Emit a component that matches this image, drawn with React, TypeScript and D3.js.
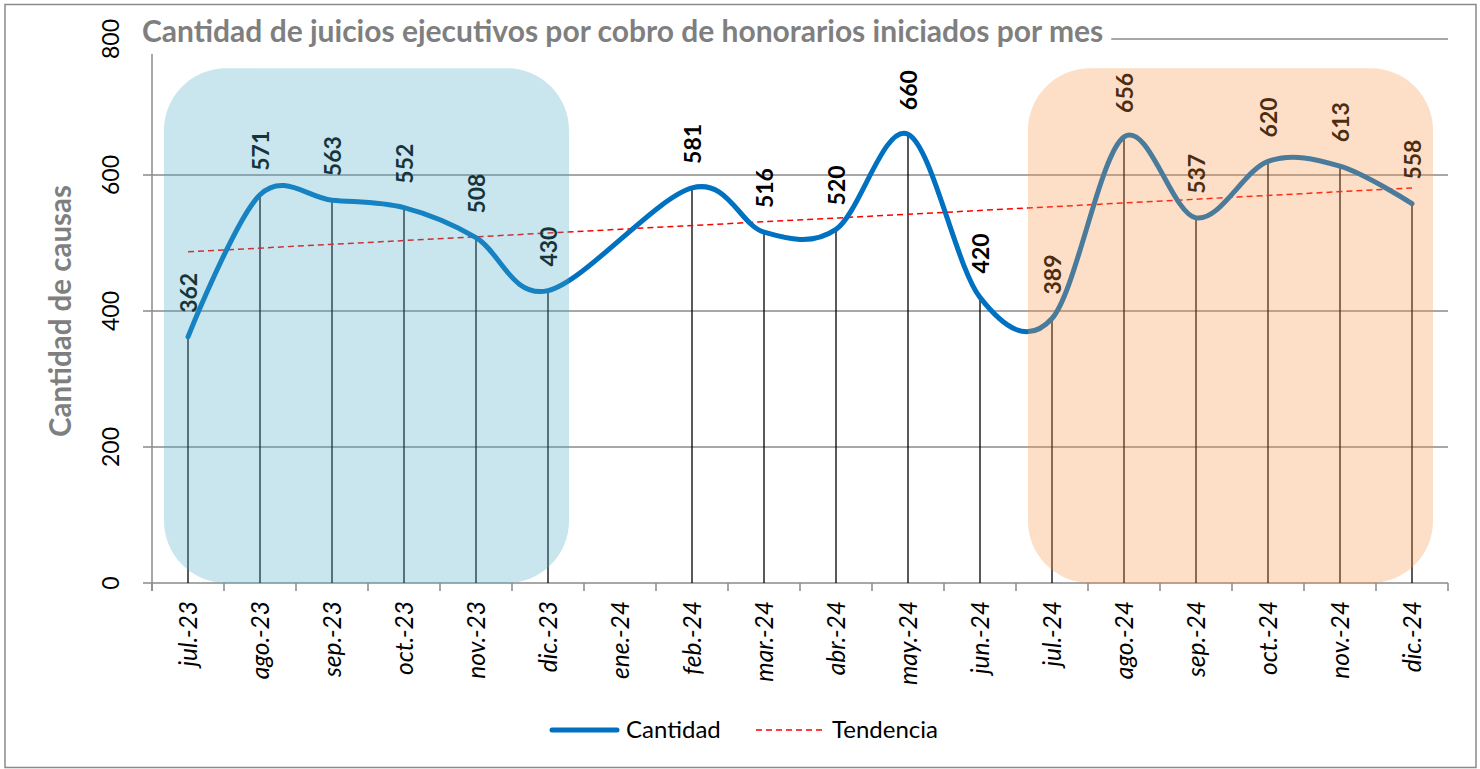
import React, { useEffect, useRef } from "react";
import * as d3 from "d3";

// chart values
const categories = [
  "jul.-23", "ago.-23", "sep.-23", "oct.-23", "nov.-23", "dic.-23",
  "ene.-24", "feb.-24", "mar.-24", "abr.-24", "may.-24", "jun.-24",
  "jul.-24", "ago.-24", "sep.-24", "oct.-24", "nov.-24", "dic.-24",
];
const cantidad: (number | null)[] = [
  362, 571, 563, 552, 508, 430, null, 581, 516, 520, 660, 420,
  389, 656, 537, 620, 613, 558,
];
// trend line read at first and last month
const tendencia = [487, 581];
const yTicks = [0, 200, 400, 600, 800];
const legendLabels = ["Cantidad", "Tendencia"];
const highlights = [
  { from: "jul.-23", to: "dic.-23", color: "#4BACC6" },
  { from: "jul.-24", to: "dic.-24", color: "#F79646" },
];
const highlightTop = 757;

const title = "Cantidad de juicios ejecutivos por cobro de honorarios iniciados por mes";
const yTitle = "Cantidad de causas";

const W = 1480;
const H = 769;
const FONT = "Lato, 'Open Sans', sans-serif";
const BLUE = "#0070C0";
const GRAY = "#8a8a8a";

const App = () => {
  const ref = useRef<SVGSVGElement>(null);

  useEffect(() => {
    const svg = d3.select(ref.current);
    svg.selectAll("*").remove();

    const x = d3.scaleBand().domain(categories).range([152, 1448]);
    const y = d3.scaleLinear().domain([0, 800]).range([583, 39]);
    const cx = (c: string) => (x(c) as number) + x.bandwidth() / 2;

    // outer frame
    svg
      .append("rect")
      .attr("x", 5)
      .attr("y", 4.5)
      .attr("width", 1471)
      .attr("height", 763)
      .attr("fill", "#fff")
      .attr("stroke", GRAY)
      .attr("stroke-width", 1.5);

    // gridlines + y ticks
    svg
      .append("g")
      .selectAll("line")
      .data(yTicks)
      .join("line")
      .attr("x1", 143)
      .attr("x2", 1448)
      .attr("y1", (d) => y(d))
      .attr("y2", (d) => y(d))
      .attr("stroke", GRAY)
      .attr("stroke-width", 1.5);

    svg
      .append("g")
      .selectAll("text")
      .data(yTicks)
      .join("text")
      .attr("transform", (d) => `translate(119,${y(d)}) rotate(-90)`)
      .attr("text-anchor", "middle")
      .attr("font-family", FONT)
      .attr("font-size", 23)
      .attr("fill", "#000")
      .text((d) => d);

    // y axis line
    svg
      .append("line")
      .attr("x1", 152)
      .attr("x2", 152)
      .attr("y1", y(800))
      .attr("y2", 591)
      .attr("stroke", GRAY)
      .attr("stroke-width", 1.5);

    // x ticks at band edges
    const edges = categories.map((c) => x(c) as number).concat([1448]);
    svg
      .append("g")
      .selectAll("line")
      .data(edges)
      .join("line")
      .attr("x1", (d) => d)
      .attr("x2", (d) => d)
      .attr("y1", y(0))
      .attr("y2", 591)
      .attr("stroke", GRAY)
      .attr("stroke-width", 1.5);

    svg
      .append("g")
      .selectAll("text")
      .data(categories)
      .join("text")
      .attr("transform", (d) => `translate(${cx(d) + 9},601) rotate(-90)`)
      .attr("text-anchor", "end")
      .attr("font-family", FONT)
      .attr("font-style", "italic")
      .attr("font-size", 24.5)
      .attr("fill", "#000")
      .text((d) => d);

    const points = categories
      .map((c, i) => ({ c, v: cantidad[i] }))
      .filter((p) => p.v !== null) as { c: string; v: number }[];

    // drop lines
    svg
      .append("g")
      .selectAll("line")
      .data(points)
      .join("line")
      .attr("x1", (d) => cx(d.c))
      .attr("x2", (d) => cx(d.c))
      .attr("y1", (d) => y(d.v))
      .attr("y2", y(0))
      .attr("stroke", "#000")
      .attr("stroke-width", 1.3);

    // trend
    const first = categories[0];
    const last = categories[categories.length - 1];
    svg
      .append("line")
      .attr("x1", cx(first))
      .attr("y1", y(tendencia[0]))
      .attr("x2", cx(last))
      .attr("y2", y(tendencia[1]))
      .attr("stroke", "#ff0000")
      .attr("stroke-width", 1.5)
      .attr("stroke-dasharray", "6,4");

    // smoothed series
    const line = d3
      .line<{ c: string; v: number }>()
      .x((d) => cx(d.c))
      .y((d) => y(d.v))
      .curve(d3.curveCardinal.tension(0));
    svg
      .append("path")
      .datum(points)
      .attr("d", line)
      .attr("fill", "none")
      .attr("stroke", BLUE)
      .attr("stroke-width", 5)
      .attr("stroke-linecap", "round")
      .attr("stroke-linejoin", "round");

    // data labels
    svg
      .append("g")
      .selectAll("text")
      .data(points)
      .join("text")
      .attr("transform", (d) => `translate(${cx(d.c) + 9},${y(d.v) - 24}) rotate(-90)`)
      .attr("text-anchor", "start")
      .attr("font-family", FONT)
      .attr("font-weight", "bold")
      .attr("font-size", 23)
      .attr("fill", "#000")
      .text((d) => d.v);

    // translucent highlight boxes
    svg
      .append("g")
      .selectAll("rect")
      .data(highlights)
      .join("rect")
      .attr("x", (d) => (x(d.from) as number) + 12)
      .attr("y", y(highlightTop))
      .attr("width", (d) => (x(d.to) as number) + x.bandwidth() - 15 - ((x(d.from) as number) + 12))
      .attr("height", y(0) - y(highlightTop))
      .attr("rx", 62)
      .attr("fill", (d) => d.color)
      .attr("fill-opacity", 0.3);

    // title with white box covering the top gridline
    const tg = svg.append("g");
    const bg = tg.append("rect").attr("fill", "#fff");
    const tt = tg
      .append("text")
      .attr("x", 142)
      .attr("y", 42)
      .attr("font-family", FONT)
      .attr("font-weight", "bold")
      .attr("font-size", 30)
      .attr("fill", "#7f7f7f")
      .text(title);
    const tw = (tt.node() as SVGTextElement).getComputedTextLength();
    bg.attr("x", 138).attr("y", 10).attr("width", tw + 12).attr("height", 44);

    // y title
    svg
      .append("text")
      .attr("transform", "translate(71,311) rotate(-90)")
      .attr("text-anchor", "middle")
      .attr("font-family", FONT)
      .attr("font-weight", "bold")
      .attr("font-size", 29.5)
      .attr("fill", "#7f7f7f")
      .text(yTitle);

    // legend
    const lg = svg.append("g");
    lg.append("line")
      .attr("x1", 552)
      .attr("x2", 617)
      .attr("y1", 730)
      .attr("y2", 730)
      .attr("stroke", BLUE)
      .attr("stroke-width", 5)
      .attr("stroke-linecap", "round");
    lg.append("text")
      .attr("x", 626)
      .attr("y", 738)
      .attr("font-family", FONT)
      .attr("font-size", 24)
      .attr("fill", "#000")
      .text(legendLabels[0]);
    lg.append("line")
      .attr("x1", 756)
      .attr("x2", 825)
      .attr("y1", 730)
      .attr("y2", 730)
      .attr("stroke", "#ff0000")
      .attr("stroke-width", 1.5)
      .attr("stroke-dasharray", "6,4");
    lg.append("text")
      .attr("x", 832)
      .attr("y", 738)
      .attr("font-family", FONT)
      .attr("font-size", 24)
      .attr("fill", "#000")
      .text(legendLabels[1]);
  }, []);

  return (
    <svg
      ref={ref}
      width={W}
      height={H}
      style={{ position: "absolute", left: 0, top: 0, background: "#fff" }}
    />
  );
};

export default App;
